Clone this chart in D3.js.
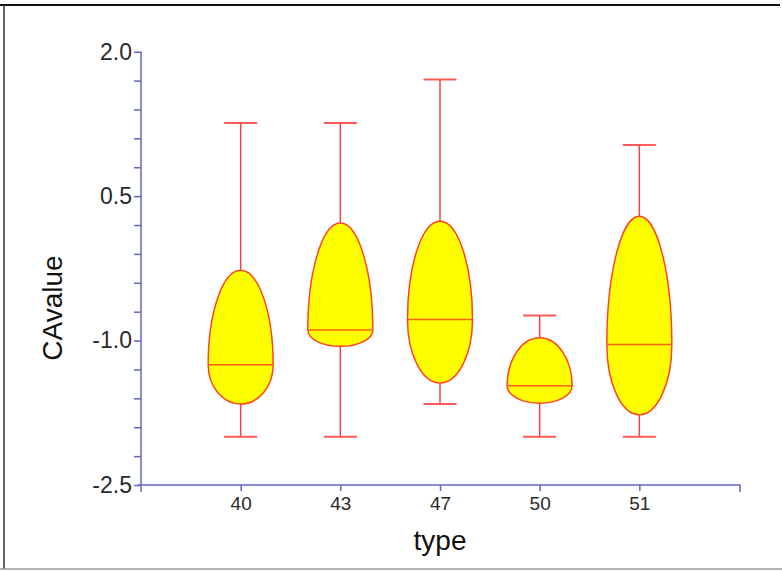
<!DOCTYPE html>
<html>
<head>
<meta charset="utf-8">
<script src="https://cdn.jsdelivr.net/npm/d3@7"></script>
<style>
  body { margin: 0; background: #fff; }
  svg { display: block; font-family: "Liberation Sans", Arial, sans-serif; }
</style>
</head>
<body>
<svg id="chart" width="782" height="571"></svg>
<script>
// values
const categories = ["40", "43", "47", "50", "51"];
const whiskerHigh = [1.26, 1.26, 1.71, -0.74, 1.03];
const upperQ = [-0.27, 0.22, 0.24, -0.97, 0.29];
const medians = [-1.25, -0.89, -0.78, -1.47, -1.04];
const lowerQ = [-1.66, -1.06, -1.44, -1.65, -1.77];
const whiskerLow = [-2.0, -2.0, -1.66, -2.0, -2.0];
const majorTicks = [2.0, 0.5, -1.0, -2.5];
const majorLabels = ["2.0", "0.5", "-1.0", "-2.5"];

const svg = d3.select("#chart");
const axisColor = "#6464c8";

// frame
svg.append("line").attr("x1", 0).attr("x2", 780).attr("y1", 5).attr("y2", 5)
  .attr("stroke", "#111").attr("stroke-width", 2);
svg.append("line").attr("x1", 4).attr("x2", 4).attr("y1", 5).attr("y2", 569)
  .attr("stroke", "#333").attr("stroke-width", 1.5);
svg.append("line").attr("x1", 0).attr("x2", 782).attr("y1", 569).attr("y2", 569)
  .attr("stroke", "#999").attr("stroke-width", 1.5);

const y = d3.scaleLinear().domain([-2.5, 2.0]).range([485, 51.7]);
const x = d3.scalePoint().domain(categories).range([141, 739]).padding(1);

// y axis
const minorTicks = d3.range(0, 16).map(i => +(2.0 - i * 0.3).toFixed(2));
const yAxis = svg.append("g")
  .attr("transform", "translate(141,0)")
  .call(d3.axisLeft(y).tickValues(minorTicks).tickSize(7).tickPadding(2)
    .tickFormat(d => {
      const k = majorTicks.findIndex(m => Math.abs(m - d) < 1e-6);
      return k >= 0 ? majorLabels[k] : "";
    }));
yAxis.select(".domain").remove();
yAxis.selectAll("line").attr("stroke", axisColor).attr("stroke-width", 1.5);
yAxis.selectAll("text").attr("fill", "#2a2a2a").style("font-size", "23px");
svg.append("line")
  .attr("x1", 141).attr("x2", 141).attr("y1", y(2.0)).attr("y2", y(-2.5) + 7)
  .attr("stroke", axisColor).attr("stroke-width", 1.5);

// x axis
const xAxis = svg.append("g")
  .attr("transform", `translate(0,${y(-2.5)})`)
  .call(d3.axisBottom(x).tickSize(6).tickPadding(6));
xAxis.select(".domain").remove();
xAxis.selectAll("line").attr("stroke", axisColor).attr("stroke-width", 1.5);
xAxis.selectAll("text").attr("fill", "#2a2a2a").style("font-size", "19px");
svg.append("path")
  .attr("d", `M138,${y(-2.5)}H740V${y(-2.5) + 7}`)
  .attr("fill", "none").attr("stroke", axisColor).attr("stroke-width", 1.5);

// axis titles
svg.append("text")
  .attr("x", 440).attr("y", 550)
  .attr("text-anchor", "middle")
  .attr("fill", "#111")
  .style("font-size", "28px")
  .text("type");

svg.append("text")
  .attr("transform", "translate(62,308) rotate(-90)")
  .attr("text-anchor", "middle")
  .attr("fill", "#111")
  .style("font-size", "28px")
  .text("CAvalue");

// boxes
const halfW = 32.5;
const capW = 16.5;
const plot = svg.append("g");

categories.forEach((c, i) => {
  const cx = x(c);
  const yt = y(upperQ[i]);
  const ym = y(medians[i]);
  const yb = y(lowerQ[i]);

  // whiskers
  plot.append("line")
    .attr("x1", cx).attr("x2", cx).attr("y1", y(whiskerHigh[i])).attr("y2", yt)
    .attr("stroke", "#ff4040").attr("stroke-width", 1.5);
  plot.append("line")
    .attr("x1", cx).attr("x2", cx).attr("y1", yb).attr("y2", y(whiskerLow[i]))
    .attr("stroke", "#ff4040").attr("stroke-width", 1.5);
  [whiskerHigh[i], whiskerLow[i]].forEach(v => {
    plot.append("line")
      .attr("x1", cx - capW).attr("x2", cx + capW)
      .attr("y1", y(v)).attr("y2", y(v))
      .attr("stroke", "#ff5a5a").attr("stroke-width", 2);
  });

  // rounded box: half ellipse above and below the median
  plot.append("path")
    .attr("d", `M${cx - halfW},${ym}` +
      `A${halfW},${ym - yt} 0 0 1 ${cx + halfW},${ym}` +
      `A${halfW},${yb - ym} 0 0 1 ${cx - halfW},${ym}Z`)
    .attr("fill", "#ffff00")
    .attr("stroke", "#ff4422")
    .attr("stroke-width", 1.5);

  // median
  plot.append("line")
    .attr("x1", cx - halfW).attr("x2", cx + halfW).attr("y1", ym).attr("y2", ym)
    .attr("stroke", "#ff6010").attr("stroke-width", 1.5);
});
</script>
</body>
</html>
